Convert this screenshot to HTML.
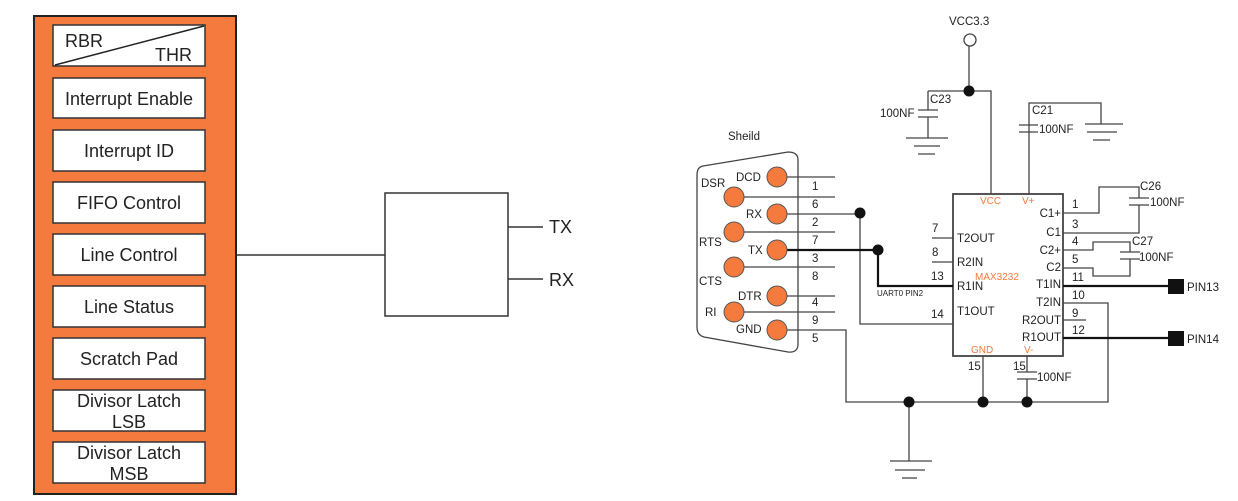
<!DOCTYPE html>
<html><head><meta charset="utf-8"><style>
html,body{margin:0;padding:0;background:#fff;width:1238px;height:501px;overflow:hidden}
svg{display:block}
text{font-family:"Liberation Sans",sans-serif;fill:#222}
</style></head><body>
<svg width="1238" height="501" viewBox="0 0 1238 501" xmlns="http://www.w3.org/2000/svg">
<rect x="34" y="16" width="202" height="478" fill="#F47A3E" stroke="#222" stroke-width="2"/>
<g fill="#fff" stroke="#333" stroke-width="1.5">
<rect x="53" y="25" width="152" height="41"/>
<rect x="53" y="78" width="152" height="40"/>
<rect x="53" y="130" width="152" height="41"/>
<rect x="53" y="182" width="152" height="41"/>
<rect x="53" y="234" width="152" height="41"/>
<rect x="53" y="286" width="152" height="41"/>
<rect x="53" y="338" width="152" height="41"/>
<rect x="53" y="390" width="152" height="41"/>
<rect x="53" y="442" width="152" height="41"/>
</g>
<line x1="55" y1="65" x2="204" y2="26" stroke="#222" stroke-width="1.5"/>
<g font-size="18" text-anchor="middle">
<text x="65" y="47" text-anchor="start">RBR</text>
<text x="155" y="61" text-anchor="start">THR</text>
<text x="129" y="105">Interrupt Enable</text>
<text x="129" y="157">Interrupt ID</text>
<text x="129" y="209">FIFO Control</text>
<text x="129" y="261">Line Control</text>
<text x="129" y="313">Line Status</text>
<text x="129" y="365">Scratch Pad</text>
<text x="129" y="407">Divisor Latch</text>
<text x="129" y="428">LSB</text>
<text x="129" y="459">Divisor Latch</text>
<text x="129" y="480">MSB</text>
</g>
<line x1="237" y1="255" x2="385" y2="255" stroke="#333" stroke-width="1.5"/>
<rect x="385" y="193" width="123" height="123" fill="#fff" stroke="#333" stroke-width="1.5"/>
<line x1="508" y1="227" x2="543" y2="227" stroke="#333" stroke-width="1.5"/>
<line x1="508" y1="279" x2="543" y2="279" stroke="#333" stroke-width="1.5"/>
<text x="549" y="233" font-size="18">TX</text>
<text x="549" y="286" font-size="18">RX</text>

<g stroke="#444" stroke-width="1.3" fill="none">
<path d="M703,166 Q697,167 697,175 L697,327 Q697,335 704,337 L788,352 Q798,353 798,344 L798,160 Q798,152 788,152 Z"/>
<line x1="777" y1="177" x2="835" y2="177"/>
<line x1="734" y1="197" x2="835" y2="197"/>
<line x1="777" y1="214" x2="860" y2="214"/>
<line x1="734" y1="232" x2="835" y2="232"/>
<line x1="734" y1="267" x2="835" y2="267"/>
<line x1="777" y1="296" x2="835" y2="296"/>
<line x1="734" y1="312" x2="835" y2="312"/>
<polyline points="777,330 846,330 846,402 1108,402 1108,303 1063,303"/>
<polyline points="860,214 860,324 953,324"/>
<line x1="969" y1="46" x2="969" y2="91"/>
<polyline points="928,91 991,91 991,194"/>
<line x1="928" y1="91" x2="928" y2="110"/>
<line x1="928" y1="117" x2="928" y2="138"/>
<line x1="918" y1="110" x2="938" y2="110"/>
<line x1="918" y1="117" x2="938" y2="117"/>
<line x1="906" y1="138" x2="948" y2="138"/>
<line x1="914" y1="146" x2="940" y2="146"/>
<line x1="918" y1="154" x2="935" y2="154"/>
<polyline points="1029,194 1029,103 1101,103 1101,124"/>
<line x1="1085" y1="124" x2="1123" y2="124"/>
<line x1="1087" y1="132" x2="1117" y2="132"/>
<line x1="1093" y1="140" x2="1110" y2="140"/>
<rect x="953" y="194" width="110" height="162" stroke-width="1.8"/>
<line x1="932" y1="238" x2="953" y2="238"/>
<line x1="932" y1="262" x2="953" y2="262"/>
<polyline points="1063,213 1099,213 1099,187 1139,187 1139,198"/>
<polyline points="1139,205 1139,233 1063,233"/>
<polyline points="1063,250 1093,250 1093,242 1130,242 1130,252"/>
<polyline points="1130,259 1130,276 1093,276 1093,268 1063,268"/>
<line x1="1063" y1="320" x2="1086" y2="320"/>
<line x1="983" y1="356" x2="983" y2="402"/>
<line x1="1027" y1="356" x2="1027" y2="372"/>
<line x1="1027" y1="379" x2="1027" y2="402"/>
<line x1="909" y1="402" x2="909" y2="461"/>
<line x1="890" y1="461" x2="932" y2="461"/>
<line x1="895" y1="470" x2="925" y2="470"/>
<line x1="902" y1="478" x2="917" y2="478"/>
</g>
<g stroke="#444" stroke-width="1.3">
<line x1="1019" y1="125" x2="1038" y2="125"/><line x1="1019" y1="132" x2="1038" y2="132"/>
<line x1="1129" y1="198" x2="1149" y2="198"/><line x1="1129" y1="205" x2="1149" y2="205"/>
<line x1="1120" y1="252" x2="1140" y2="252"/><line x1="1120" y1="259" x2="1140" y2="259"/>
<line x1="1017" y1="372" x2="1037" y2="372"/><line x1="1017" y1="379" x2="1037" y2="379"/>
</g>
<g stroke="#111" stroke-width="2.2" fill="none">
<line x1="777" y1="250" x2="878" y2="250"/>
<polyline points="878,250 878,286 953,286"/>
<line x1="1063" y1="286" x2="1168" y2="286"/>
<line x1="1063" y1="338" x2="1168" y2="338"/>
</g>
<rect x="1168" y="279" width="16" height="15" fill="#111"/>
<rect x="1168" y="331" width="16" height="15" fill="#111"/>
<circle cx="970" cy="40" r="6" fill="#fff" stroke="#444" stroke-width="1.3"/>
<g fill="#111">
<circle cx="969" cy="91" r="5.5"/>
<circle cx="860" cy="213" r="5.5"/>
<circle cx="878" cy="250" r="5.5"/>
<circle cx="909" cy="402" r="5.5"/>
<circle cx="983" cy="402" r="5.5"/>
<circle cx="1027" cy="402" r="5.5"/>
</g>
<g fill="#F47A3E" stroke="#555" stroke-width="1">
<circle cx="777" cy="177" r="10"/>
<circle cx="734" cy="197" r="10"/>
<circle cx="777" cy="214" r="10"/>
<circle cx="734" cy="232" r="10"/>
<circle cx="777" cy="250" r="10"/>
<circle cx="734" cy="267" r="10"/>
<circle cx="777" cy="296" r="10"/>
<circle cx="734" cy="312" r="10"/>
<circle cx="777" cy="330" r="10"/>
</g>
<g font-size="11.5">
<text x="728" y="140">Sheild</text>
<text x="736" y="181">DCD</text>
<text x="701" y="187">DSR</text>
<text x="746" y="218">RX</text>
<text x="699" y="246">RTS</text>
<text x="748" y="254">TX</text>
<text x="699" y="285">CTS</text>
<text x="738" y="300">DTR</text>
<text x="705" y="316">RI</text>
<text x="736" y="333">GND</text>
<text x="812" y="190">1</text><text x="812" y="208">6</text><text x="812" y="226">2</text>
<text x="812" y="244">7</text><text x="812" y="262">3</text><text x="812" y="280">8</text>
<text x="812" y="306">4</text><text x="812" y="324">9</text><text x="812" y="342">5</text>
<text x="949" y="25">VCC3.3</text>
<text x="930" y="103">C23</text>
<text x="880" y="117">100NF</text>
<text x="1032" y="114">C21</text>
<text x="1039" y="133">100NF</text>
<text x="1140" y="190">C26</text>
<text x="1150" y="206">100NF</text>
<text x="1132" y="245">C27</text>
<text x="1139" y="261">100NF</text>
<text x="1037" y="381">100NF</text>
<text x="1187" y="291">PIN13</text>
<text x="1187" y="343">PIN14</text>
<text x="957" y="242">T2OUT</text>
<text x="957" y="266">R2IN</text>
<text x="957" y="290">R1IN</text>
<text x="957" y="315">T1OUT</text>
<text x="932" y="232">7</text><text x="932" y="256">8</text><text x="931" y="280">13</text><text x="931" y="318">14</text>
<g text-anchor="end">
<text x="1061" y="217">C1+</text><text x="1061" y="236">C1</text>
<text x="1061" y="254">C2+</text><text x="1061" y="271">C2</text>
<text x="1061" y="288">T1IN</text><text x="1061" y="306">T2IN</text>
<text x="1061" y="324">R2OUT</text><text x="1061" y="341">R1OUT</text>
</g>
<text x="1072" y="208">1</text><text x="1072" y="228">3</text><text x="1072" y="245">4</text>
<text x="1072" y="263">5</text><text x="1072" y="281">11</text><text x="1072" y="299">10</text>
<text x="1072" y="317">9</text><text x="1072" y="334">12</text>
<text x="968" y="370">15</text><text x="1013" y="370">15</text>
</g>
<g font-size="10">
<text x="980" y="204" style="fill:#F47A3E">VCC</text>
<text x="1022" y="204" style="fill:#F47A3E">V+</text>
<text x="975" y="280" style="fill:#F47A3E">MAX3232</text>
<text x="971" y="353" style="fill:#F47A3E">GND</text>
<text x="1024" y="353" style="fill:#F47A3E">V-</text>
</g>
<text x="877" y="296" font-size="8">UART0 PIN2</text>
</svg>
</body></html>
